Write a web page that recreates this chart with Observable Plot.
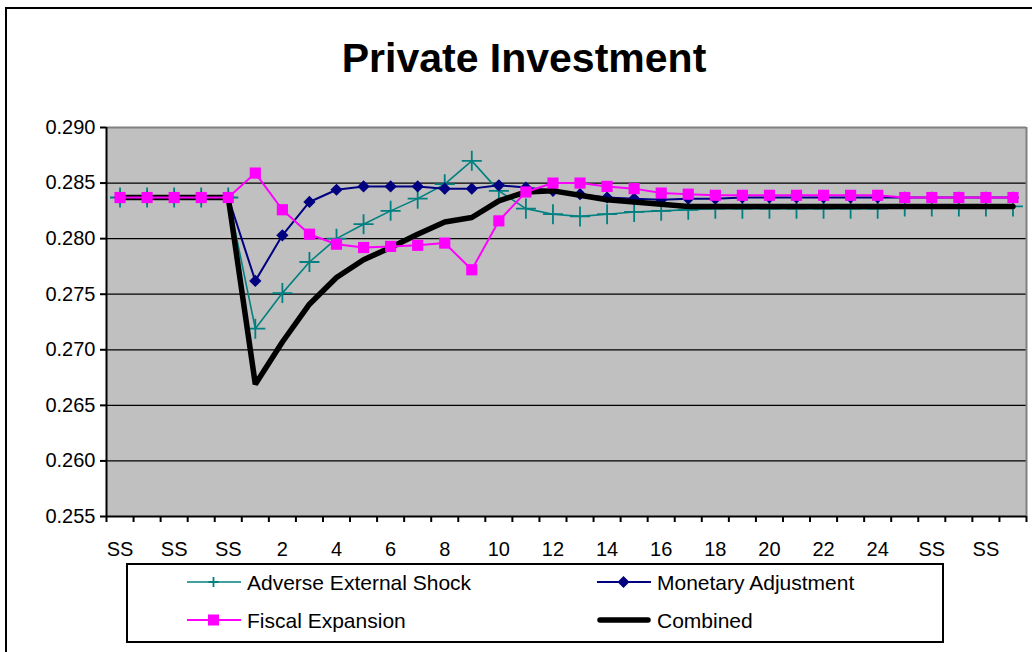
<!DOCTYPE html>
<html>
<head>
<meta charset="utf-8">
<script src="https://cdn.jsdelivr.net/npm/d3@7"></script>
<script src="https://cdn.jsdelivr.net/npm/@observablehq/plot@0.6"></script>
<style>
  html, body { margin: 0; padding: 0; background: #fff; width: 1032px; height: 652px; overflow: hidden; }
  body { position: relative; font-family: "Liberation Sans", Arial, sans-serif; color: #000; }
  #frame { position: absolute; left: 5px; top: 7px; width: 1100px; height: 700px; border: 2px solid #000; box-sizing: border-box; }
  #title { position: absolute; left: 0; width: 1048px; top: 38px; text-align: center; font-weight: bold; font-size: 41px; line-height: 41px; }
  #chart { position: absolute; left: 0; top: 100px; }
  #legendbox { position: absolute; left: 126px; top: 563px; width: 818px; height: 80px; border: 2px solid #000; box-sizing: border-box; background: #fff; }
  .litem { position: absolute; height: 21px; font-size: 21px; line-height: 21px; white-space: nowrap; }
  .lsw { position: absolute; }
</style>
</head>
<body>
<div id="frame"></div>
<div id="title">Private Investment</div>
<div id="chart"></div>
<div id="legendbox"></div>
<div id="legend"></div>
<script>
// Categories along the x axis (5 initial steady states, periods 1..25, 4 final steady states)
const categories = ["SS","SS","SS","SS","SS",
  "1","2","3","4","5","6","7","8","9","10","11","12","13","14","15","16","17","18","19","20","21","22","23","24","25",
  "SS","SS","SS","SS"];

const adverse = [0.2837,0.2837,0.2837,0.2837,0.2837,
  0.2719,0.2751,0.2779,0.2800,0.2813,0.2825,0.2836,0.2849,0.2870,0.2843,
  0.2827,0.2822,0.2820,0.2822,0.2824,0.2825,0.2826,0.2827,0.2827,0.2827,
  0.2827,0.2827,0.2827,0.2827,0.2829,
  0.2829,0.2829,0.2829,0.2829];

const monetary = [0.2837,0.2837,0.2837,0.2837,0.2837,
  0.2762,0.2803,0.2833,0.2844,0.2847,0.2847,0.2847,0.2845,0.2845,0.2848,
  0.2846,0.2843,0.2840,0.2837,0.2836,0.2835,0.2836,0.2836,0.2837,0.2837,
  0.2837,0.2837,0.2837,0.2837,0.2837,
  0.2837,0.2837,0.2837,0.2837];

const fiscal = [0.2837,0.2837,0.2837,0.2837,0.2837,
  0.2859,0.2826,0.2804,0.2795,0.2792,0.2793,0.2794,0.2796,0.2772,0.2816,
  0.2842,0.2850,0.2850,0.2847,0.2845,0.2841,0.2840,0.2839,0.2839,0.2839,
  0.2839,0.2839,0.2839,0.2839,0.2837,
  0.2837,0.2837,0.2837,0.2837];

const combined = [0.2837,0.2837,0.2837,0.2837,0.2837,
  0.2669,0.2707,0.2741,0.2765,0.2781,0.2792,0.2804,0.2815,0.2819,0.2834,
  0.2842,0.2843,0.2839,0.2835,0.2833,0.2831,0.2829,0.2829,0.2829,0.2829,
  0.2829,0.2829,0.2829,0.2829,0.2829,
  0.2829,0.2829,0.2829,0.2829];

const yTicks = [0.255,0.260,0.265,0.270,0.275,0.280,0.285,0.290];

const seriesNames = ["Adverse External Shock","Monetary Adjustment","Fiscal Expansion","Combined"];
const colors = {"Adverse External Shock":"#008080","Monetary Adjustment":"#000080","Fiscal Expansion":"#FF00FF","Combined":"#000000"};

const toRows = (arr) => arr.map((v, i) => ({i, label: categories[i], value: v}));
const rA = toRows(adverse), rM = toRows(monetary), rF = toRows(fiscal), rC = toRows(combined);

const n = categories.length;
const labelTicks = d3.range(0, n, 2);
const boundaryTicks = d3.range(0, n + 1).map(k => k - 0.5);

const chart = Plot.plot({
  width: 1032,
  height: 462,
  marginTop: 27,
  marginBottom: 46,
  marginLeft: 106,
  marginRight: 6,
  x: {type: "linear", domain: [-0.5, n - 0.5]},
  y: {domain: [0.255, 0.290]},
  style: {fontFamily: "'Liberation Sans', Arial, sans-serif", fontSize: "20px", color: "#000", background: "transparent"},
  marks: [
    Plot.frame({fill: "#c0c0c0", stroke: null}),
    Plot.gridY({ticks: yTicks.slice(1, -1), stroke: "#000", strokeOpacity: 1, strokeWidth: 1.2}),
    Plot.ruleY([0.290], {stroke: "#808080", strokeWidth: 2}),
    Plot.ruleX([n - 0.5], {stroke: "#808080", strokeWidth: 2}),
    Plot.axisY({ticks: yTicks, tickFormat: d3.format(".3f"), tickSize: 6, tickPadding: 5, strokeWidth: 2, label: null, fontSize: 20}),
    Plot.axisX({ticks: boundaryTicks, tickSize: 6, tickFormat: () => "", strokeWidth: 2, label: null}),
    Plot.axisX({ticks: labelTicks, tickSize: 0, tickPadding: 25, tickFormat: i => categories[i], label: null, fontSize: 20}),
    Plot.ruleX([-0.5], {stroke: "#000", strokeWidth: 2}),
    Plot.ruleY([0.255], {stroke: "#000", strokeWidth: 2}),
    // Adverse External Shock
    Plot.line(rA, {x: "i", y: "value", stroke: colors["Adverse External Shock"], strokeWidth: 1.6}),
    Plot.dot(rA, {x: "i", y: "value", symbol: "plus", r: 6.5, stroke: colors["Adverse External Shock"], fill: "none", strokeWidth: 1.8}),
    // Monetary Adjustment
    Plot.line(rM, {x: "i", y: "value", stroke: colors["Monetary Adjustment"], strokeWidth: 2}),
    Plot.dot(rM, {x: "i", y: "value", symbol: "diamond2", r: 5.5, fill: colors["Monetary Adjustment"], stroke: "none"}),
    // Combined
    Plot.line(rC, {x: "i", y: "value", stroke: colors["Combined"], strokeWidth: 5.5, strokeLinejoin: "miter"}),
    // Fiscal Expansion
    Plot.line(rF, {x: "i", y: "value", stroke: colors["Fiscal Expansion"], strokeWidth: 2}),
    Plot.dot(rF, {x: "i", y: "value", symbol: "square", r: 6.3, fill: colors["Fiscal Expansion"], stroke: "none"})
  ]
});
document.getElementById("chart").appendChild(chart);

// Legend
const legendItems = [
  {name: seriesNames[0], x: 187, y: 582, kind: "plus"},
  {name: seriesNames[1], x: 597, y: 582, kind: "diamond"},
  {name: seriesNames[2], x: 187, y: 620, kind: "square"},
  {name: seriesNames[3], x: 597, y: 620, kind: "thick"}
];
const legend = document.getElementById("legend");
for (const it of legendItems) {
  const c = colors[it.name];
  let marker = "";
  if (it.kind === "plus") marker = `<path d="M26.5,3V13M21.5,8H31.5" stroke="${c}" stroke-width="1.8" fill="none"/>`;
  if (it.kind === "diamond") marker = `<path d="M26.5,2L32.5,8L26.5,14L20.5,8Z" fill="${c}"/>`;
  if (it.kind === "square") marker = `<rect x="21" y="2.5" width="11" height="11" fill="${c}"/>`;
  const sw = it.kind === "thick" ? 5.5 : (it.kind === "plus" ? 1.6 : 2);
  const cap = it.kind === "thick" ? "round" : "butt";
  const svg = `<svg class="lsw" width="54" height="16" style="left:${it.x}px;top:${it.y - 8}px;position:absolute">
    <line x1="${it.kind === "thick" ? 3 : 0}" y1="8" x2="${it.kind === "thick" ? 51 : 54}" y2="8" stroke="${c}" stroke-width="${sw}" stroke-linecap="${cap}"/>${marker}</svg>`;
  legend.insertAdjacentHTML("beforeend", svg);
  const t = document.createElement("div");
  t.className = "litem";
  t.style.left = (it.x + 60) + "px";
  t.style.top = (it.y - 10) + "px";
  t.textContent = it.name;
  legend.appendChild(t);
}
</script>
</body>
</html>
